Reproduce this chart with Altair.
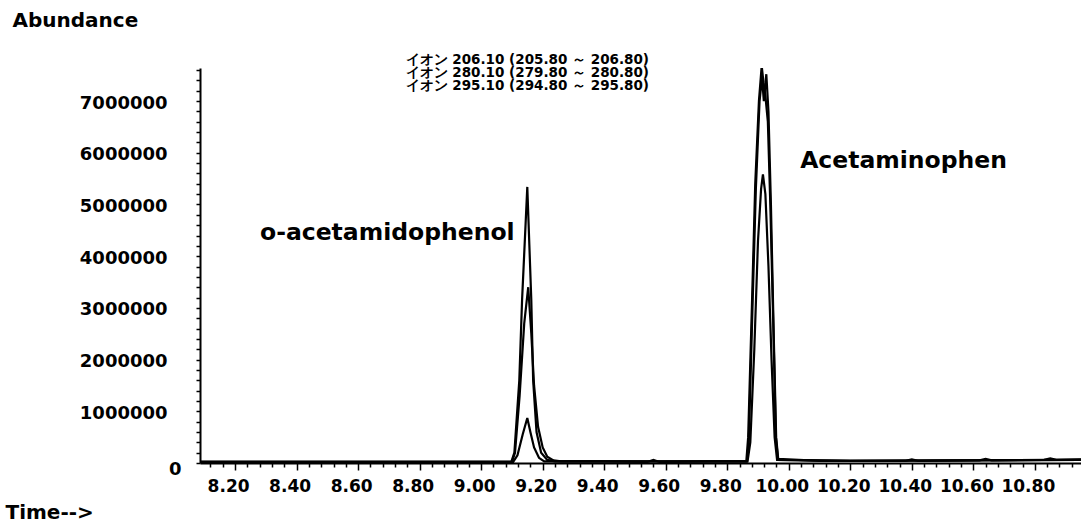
import altair as alt
import pandas as pd

# ---- chromatogram traces (time in min, abundance in millions) ----
trace_a_time = [8.086, 8.50, 9.00, 9.098, 9.108, 9.124, 9.133, 9.150, 9.163, 9.169, 9.180, 9.195, 9.215, 9.240,
                9.40, 9.54, 9.56, 9.58, 9.75, 9.862, 9.868, 9.880, 9.891, 9.903, 9.912, 9.918, 9.924, 9.932, 9.940,
                9.950, 9.958, 9.965, 10.10, 10.38, 10.40, 10.42, 10.62, 10.64, 10.66, 10.83, 10.85, 10.87, 10.95]
trace_a_abund = [0.02, 0.02, 0.02, 0.02, 0.2, 1.6, 3.15, 5.34, 3.15, 1.6, 0.6, 0.2, 0.06, 0.03,
                 0.03, 0.02, 0.06, 0.02, 0.03, 0.03, 0.5, 3.0, 5.4, 7.0, 7.68, 7.35, 7.1, 6.6, 5.0,
                 2.6, 0.5, 0.08, 0.04, 0.04, 0.07, 0.04, 0.05, 0.08, 0.05, 0.06, 0.09, 0.06, 0.07]

trace_b_time = [8.086, 9.00, 9.100, 9.110, 9.125, 9.140, 9.153, 9.163, 9.172, 9.185, 9.200, 9.215, 9.235, 9.260,
                9.50, 9.864, 9.870, 9.882, 9.893, 9.905, 9.913, 9.919, 9.927, 9.934, 9.942, 9.951, 9.959, 9.966,
                10.20, 10.95]
trace_b_abund = [0.02, 0.02, 0.02, 0.2, 1.3, 2.7, 3.40, 2.5, 1.5, 0.7, 0.3, 0.12, 0.05, 0.03,
                 0.03, 0.03, 0.4, 3.0, 5.3, 7.0, 7.45, 7.0, 7.52, 6.8, 5.0, 2.5, 0.5, 0.06,
                 0.04, 0.06]

trace_c_time = [8.086, 9.00, 9.104, 9.118, 9.135, 9.150, 9.160, 9.172, 9.188, 9.205, 9.50, 9.866, 9.875, 9.888,
                9.900, 9.910, 9.916, 9.924, 9.934, 9.944, 9.954, 9.962, 10.20, 10.95]
trace_c_abund = [0.02, 0.02, 0.02, 0.15, 0.55, 0.87, 0.6, 0.3, 0.1, 0.03, 0.03, 0.03, 0.4, 2.2,
                 4.3, 5.3, 5.58, 5.2, 3.8, 2.0, 0.5, 0.06, 0.04, 0.06]

# ---- annotation text ----
header_lines = ["イオン 206.10 (205.80 ～ 206.80)",
                "イオン 280.10 (279.80 ～ 280.80)",
                "イオン 295.10 (294.80 ～ 295.80)"]
header_time = [9.15]
header_abund = [7.93]

peak_names = ["o-acetamidophenol", "Acetaminophen"]
peak_label_time = [8.281, 10.037]
peak_label_abund = [4.31, 5.71]

# ---- ticks ----
x_ticks = [round(8.12 + 0.04 * i, 2) for i in range(71)]
y_ticks = [200000 * i for i in range(39)]

rows = []
for name, ts, vs in [("a", trace_a_time, trace_a_abund),
                     ("b", trace_b_time, trace_b_abund),
                     ("c", trace_c_time, trace_c_abund)]:
    for t, v in zip(ts, vs):
        rows.append({"trace": name, "time": t, "abundance": v * 1e6})
df = pd.DataFrame(rows)

hdr = pd.DataFrame({"time": header_time, "abundance": [v * 1e6 for v in header_abund],
                    "text": ["\n".join(header_lines)]})
pk = pd.DataFrame({"time": peak_label_time, "abundance": [v * 1e6 for v in peak_label_abund], "text": peak_names})

FONT = "DejaVu Sans"
xscale = alt.Scale(domain=[8.086, 10.95], nice=False, zero=False)
yscale = alt.Scale(domain=[0, 7640000], nice=False)

major_x = "abs(datum.value*5 - round(datum.value*5)) < 0.001"

x_axis = alt.Axis(
    values=x_ticks, tickCount=500,
    labelExpr=f"{major_x} ? format(datum.value, '.2f') : ''",
    tickSize={"condition": {"test": major_x, "value": 7}, "value": 4},
    tickWidth=1.5, tickColor="black",
    domainWidth=2, domainColor="black",
    grid=False, labelOverlap=False, labelFlush=False, labelBound=False,
    labelFont=FONT, labelFontSize=17, labelFontWeight="bold", labelColor="black",
    labelPadding=8, labelOffset=-7,
    title="Time-->", titleFont=FONT, titleFontSize=20, titleFontWeight="bold", titleColor="black",
    titleAngle=0, titleAlign="left", titleBaseline="alphabetic", titleX=-195, titleY=55,
)
y_axis = alt.Axis(
    values=y_ticks, tickCount=500,
    labelExpr="datum.value % 1000000 == 0 ? format(datum.value, 'd') : ''",
    tickSize=4, tickWidth=1.5, tickColor="black",
    domainWidth=2, domainColor="black",
    grid=False, labelOverlap=False, labelFlush=False, labelBound=False,
    labelFont=FONT, labelFontSize=18, labelFontWeight="bold", labelColor="black",
    labelPadding={"condition": {"test": "datum.value == 0", "value": 15}, "value": 29},
    labelOffset={"condition": {"test": "datum.value == 0", "value": 6}, "value": 2},
    title="Abundance", titleFont=FONT, titleFontSize=20, titleFontWeight="bold", titleColor="black",
    titleAngle=0, titleAlign="left", titleBaseline="alphabetic", titleX=-188, titleY=-42,
)

lines = alt.Chart(df).mark_line(color="black", strokeWidth=2.2, clip=True).encode(
    x=alt.X("time:Q", scale=xscale, axis=x_axis),
    y=alt.Y("abundance:Q", scale=yscale, axis=y_axis),
    detail="trace:N",
)

header = alt.Chart(hdr).mark_text(
    font=FONT, fontSize=13.5, fontWeight="bold", color="black", align="center", baseline="top",
    lineBreak="\n", lineHeight=13
).encode(x=alt.X("time:Q", scale=xscale), y=alt.Y("abundance:Q", scale=yscale), text="text:N")

labels = alt.Chart(pk).mark_text(
    font=FONT, fontSize=23.5, fontWeight="bold", color="black", align="left", baseline="alphabetic"
).encode(x=alt.X("time:Q", scale=xscale), y=alt.Y("abundance:Q", scale=yscale), text="text:N")

chart = alt.layer(lines, header, labels).properties(
    width=881, height=395,
    padding={"left": 200, "top": 68, "right": 0, "bottom": 62},
    autosize=alt.AutoSizeParams(type="none"),
    background="white",
).configure_view(strokeWidth=0)

chart.save("out.html", embed_options={"renderer": "svg", "actions": False})
